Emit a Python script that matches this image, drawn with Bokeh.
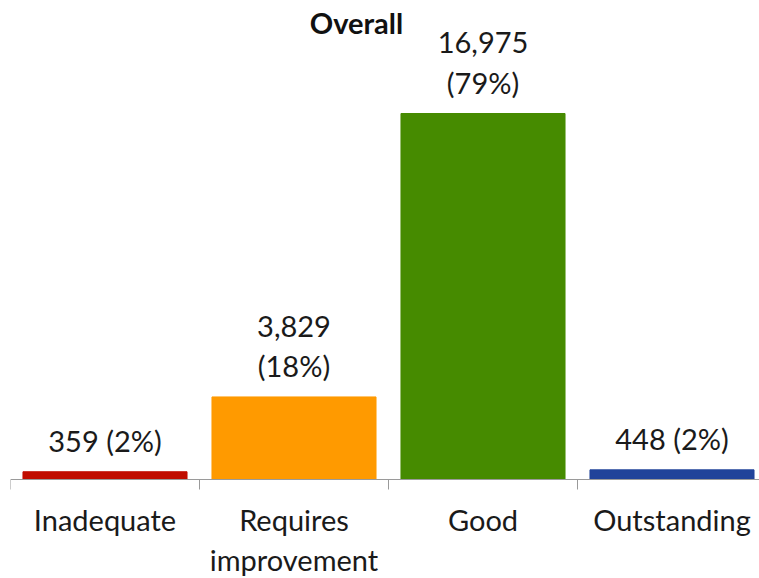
from bokeh.plotting import figure
from bokeh.models import ColumnDataSource, Range1d, FixedTicker, Label
from bokeh.core.properties import value
from bokeh.embed import file_html
from bokeh.resources import INLINE

categories = ["Inadequate", "Requires\nimprovement", "Good", "Outstanding"]
counts = [359, 3829, 16975, 448]
percents = [2, 18, 79, 2]
colors = ["#C00D00", "#FF9A00", "#468B00", "#21439A"]
title_text = "Overall"

xs = [i + 0.5 for i in range(len(categories))]
labels = []
for c, pc in zip(counts, percents):
    sep = "\n" if c >= 1000 else " "
    labels.append(f"{c:,}{sep}({pc}%)")

src = ColumnDataSource(dict(x=xs, top=counts, color=colors, label=labels))

FONT = "Lato"
W, H = 759, 578
LEFT = 10
CAT_PX = 189
UNITS_PER_PX = 46.38
ZERO_FROM_TOP = 479
Y_END = ZERO_FROM_TOP * UNITS_PER_PX
Y_START = -(H - ZERO_FROM_TOP) * UNITS_PER_PX

p = figure(width=W, height=H, output_backend="svg", toolbar_location=None,
           x_range=Range1d(0, (W - LEFT) / CAT_PX), y_range=Range1d(Y_START, Y_END),
           min_border_left=LEFT, min_border_right=0, min_border_top=0, min_border_bottom=0)
p.outline_line_color = None
p.xgrid.grid_line_color = None
p.ygrid.grid_line_color = None
p.yaxis.visible = False
p.background_fill_color = "white"

p.vbar(x="x", top="top", bottom=0, width=0.868, color="color", source=src)

p.text(x="x", y="top", text="label", source=src, text_align="center",
       text_baseline="bottom", y_offset=-14, text_font=value(FONT),
       text_font_size="29px", text_color="#1a1a1a", text_line_height=1.15)

ax = p.xaxis[0]
ax.fixed_location = 0
ax.ticker = FixedTicker(ticks=xs, minor_ticks=[0, 1, 2, 3, 4])
ax.major_label_overrides = {x: c for x, c in zip(xs, categories)}
ax.major_tick_line_color = None
ax.minor_tick_line_color = "#9a9a9a"
ax.minor_tick_out = 10
ax.minor_tick_in = 0
ax.axis_line_color = "#9a9a9a"
ax.major_label_standoff = 12
ax.major_label_text_font = FONT
ax.major_label_text_font_size = "29px"
ax.major_label_text_color = "#1a1a1a"
ax.major_label_text_line_height = 1.15

p.add_layout(Label(x=(356 - LEFT) / CAT_PX, y=(ZERO_FROM_TOP - 22) * UNITS_PER_PX, text=title_text,
                   text_align="center", text_baseline="alphabetic", text_font=FONT,
                   text_font_size="29px", text_font_style="bold", text_color="#111111"))

open("out.html", "w").write(file_html(p, INLINE))
